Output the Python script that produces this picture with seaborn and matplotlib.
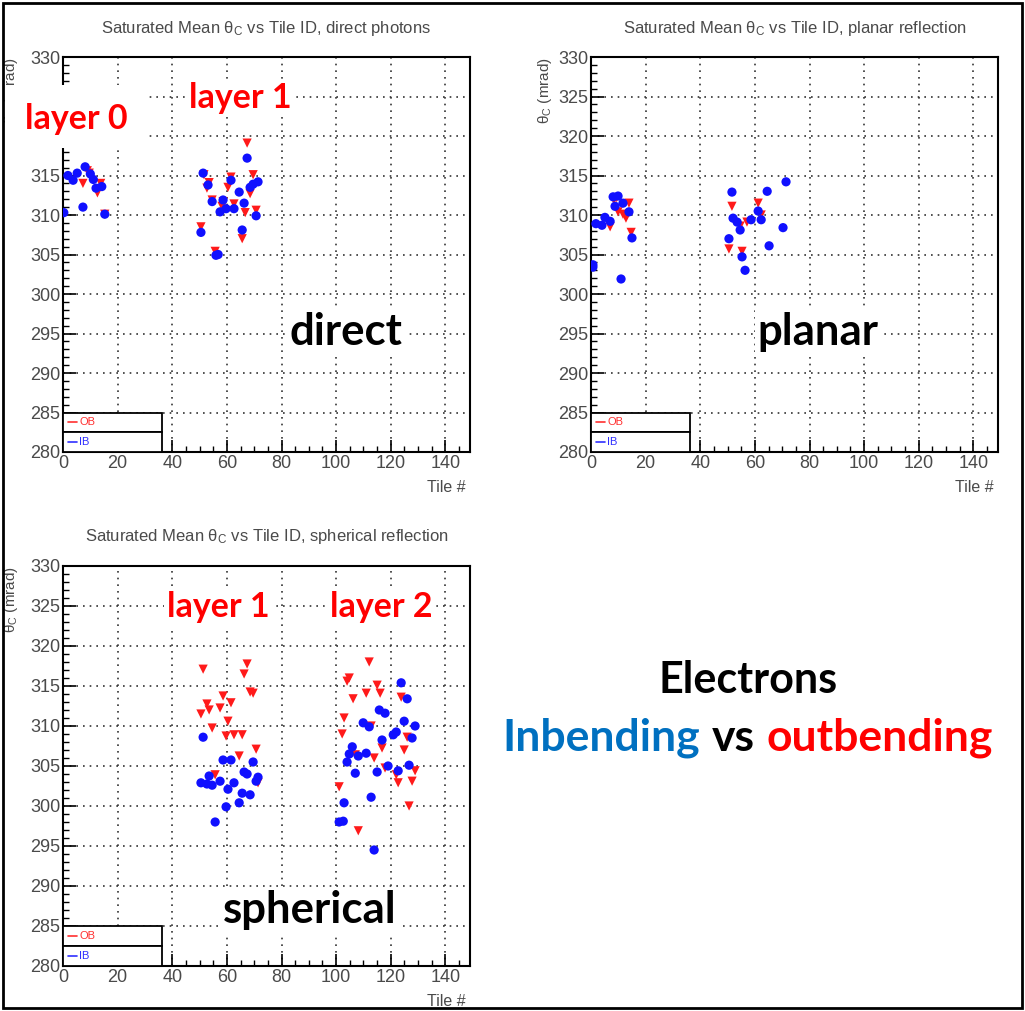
import pandas as pd
import matplotlib.pyplot as plt
from matplotlib.patches import Rectangle
from matplotlib.ticker import MultipleLocator
import seaborn as sns

# direct photons
direct_ob_tile = [7.3, 8.9, 9.6, 12.6, 13.8, 15.3, 67.4, 51.6, 53.5, 52.7,
                  61.5, 69.6, 68.5, 60.4, 54.6, 58.6, 58.2, 62.6, 66.7, 70.7,
                  50.5, 65.6, 55.7]
direct_ob_theta = [314.0, 315.6, 315.3, 312.8, 314.0, 310.1, 319.1, 315.1, 314.1, 313.4,
                   314.8, 315.1, 312.7, 313.5, 311.9, 311.7, 311.1, 311.4, 310.3, 310.6,
                   308.5, 307.0, 305.4]
direct_ib_tile = [0.3, 1.8, 3.7, 5.2, 7.3, 8.1, 10.0, 11.1, 12.1, 14.2,
                  15.3, 67.4, 51.3, 53.1, 61.5, 71.4, 69.6, 68.5, 64.5, 54.6,
                  58.6, 57.5, 59.7, 62.6, 66.3, 70.7, 50.5, 65.6, 56.0, 56.8]
direct_ib_theta = [310.3, 315.0, 314.4, 315.3, 311.0, 316.1, 315.2, 314.5, 313.4, 313.6,
                   310.1, 317.2, 315.3, 313.8, 314.4, 314.2, 313.9, 313.5, 312.9, 311.7,
                   311.9, 310.4, 310.8, 310.8, 311.5, 309.9, 307.8, 308.1, 304.9, 305.0]

# planar reflection
planar_ob_tile = [7.0, 8.4, 9.4, 9.9, 13.9, 11.7, 12.8, 14.7, 51.6, 61.2,
                  62.3, 54.6, 57.1, 50.5, 55.3]
planar_ob_theta = [308.5, 311.9, 312.2, 310.4, 311.5, 310.1, 309.6, 307.8, 311.1, 311.5,
                   310.0, 308.6, 309.1, 305.7, 305.4]
planar_ib_tile = [0.7, 0.7, 1.8, 4.0, 5.1, 7.0, 8.1, 9.9, 8.8, 11.7,
                  13.9, 15.0, 11.0, 71.4, 51.6, 64.5, 61.2, 62.3, 52.0, 53.5,
                  54.6, 58.6, 70.3, 50.5, 55.3, 65.2, 56.4]
planar_ib_theta = [303.7, 303.4, 308.9, 308.7, 309.7, 309.2, 312.3, 312.4, 311.1, 311.5,
                   310.4, 307.1, 301.9, 314.2, 312.9, 313.0, 310.5, 309.4, 309.6, 309.1,
                   308.1, 309.4, 308.4, 307.0, 304.7, 306.1, 303.0]

# spherical reflection
spher_ob_tile = [51.3, 67.4, 66.3, 68.5, 69.6, 58.6, 61.5, 52.7, 53.5, 57.5,
                 50.5, 60.4, 54.6, 59.7, 62.6, 65.6, 70.7, 64.5, 71.4, 55.7,
                 112.1, 104.8, 104.0, 115.0, 111.0, 116.1, 106.2, 123.8, 102.9, 112.8,
                 102.2, 126.0, 116.8, 124.9, 107.0, 113.9, 117.9, 128.9, 122.0, 127.8,
                 122.7, 101.1, 126.7, 108.1]
spher_ob_theta = [317.1, 317.75, 316.5, 314.25, 314.1, 313.75, 312.9, 312.75, 312.0, 312.25,
                  311.5, 310.6, 309.75, 308.75, 308.9, 308.9, 307.1, 306.25, 302.9, 303.9,
                  318.0, 316.0, 315.6, 315.1, 314.1, 314.1, 313.4, 313.6, 311.0, 310.0,
                  309.0, 308.6, 307.25, 307.0, 306.4, 306.0, 304.75, 304.4, 303.9, 303.1,
                  302.9, 302.4, 300.0, 296.9]
spher_ib_tile = [51.3, 58.6, 61.5, 69.6, 66.3, 67.4, 71.4, 70.7, 53.5, 57.5,
                 50.5, 52.7, 54.6, 62.6, 60.4, 65.6, 68.5, 64.5, 59.7, 55.7,
                 123.8, 126.0, 115.8, 117.9, 124.9, 128.9, 109.9, 112.1, 122.0, 120.9,
                 127.8, 116.8, 105.9, 104.8, 108.1, 111.0, 104.0, 119.0, 126.7, 107.0,
                 115.0, 122.7, 112.8, 102.9, 101.1, 102.6, 113.9]
spher_ib_theta = [308.6, 305.75, 305.75, 305.5, 304.25, 304.0, 303.6, 303.1, 303.75, 303.1,
                  302.9, 302.75, 302.6, 302.9, 302.1, 301.6, 301.4, 300.4, 299.9, 298.0,
                  315.4, 313.4, 312.0, 311.6, 310.6, 310.0, 310.4, 309.9, 309.25, 308.9,
                  308.5, 308.25, 307.4, 306.5, 306.25, 306.6, 305.5, 305.0, 305.1, 304.1,
                  304.25, 304.4, 301.1, 300.4, 298.0, 298.1, 294.5]

titles = ["direct photons", "planar reflection", "spherical reflection"]

sns.set_style("white")
plt.rcParams['font.family'] = ['Liberation Sans', 'DejaVu Sans']

W, H = 1025, 1011
fig = plt.figure(figsize=(W / 100, H / 100), dpi=100)


def px_box(x0, y0, x1, y1):
    return [x0 / W, 1 - y1 / H, (x1 - x0) / W, (y1 - y0) / H]


def panel(box, ob_x, ob_y, ib_x, ib_y, title, ylab_x):
    ax = fig.add_axes(box)
    df = pd.concat([
        pd.DataFrame({'tile': ob_x, 'theta': ob_y, 'field': 'OB'}),
        pd.DataFrame({'tile': ib_x, 'theta': ib_y, 'field': 'IB'}),
    ], ignore_index=True)
    sns.scatterplot(data=df, x='tile', y='theta', hue='field', style='field',
                    markers={'OB': 'v', 'IB': 'o'},
                    palette={'OB': '#ff1a1a', 'IB': '#1010ff'},
                    s=44, linewidth=0, legend=False, ax=ax, zorder=3)
    ax.set_xlim(0, 149)
    ax.set_ylim(280, 330)
    ax.xaxis.set_major_locator(MultipleLocator(20))
    ax.xaxis.set_minor_locator(MultipleLocator(5))
    ax.yaxis.set_major_locator(MultipleLocator(5))
    ax.yaxis.set_minor_locator(MultipleLocator(1))
    ax.tick_params(which='both', direction='in', colors='black',
                   labelcolor='#4a4a4a', labelsize=13, pad=2)
    ax.tick_params(which='major', length=9, width=1.2)
    ax.tick_params(which='minor', length=4.5, width=1)
    ax.tick_params(axis='y', which='both', left=True)
    ax.tick_params(axis='x', which='both', bottom=True)
    ax.grid(True, which='major', color='0.2', linestyle=(0, (1, 3)), linewidth=1.2)
    for sp in ax.spines.values():
        sp.set_color('black')
        sp.set_linewidth(1.5)
    ax.set_title(r"Saturated Mean $\mathregular{\theta_{C}}$ vs Tile ID, " + title,
                 fontsize=12, color='#4a4a4a', y=1.073, va='center', pad=0)
    ax.set_xlabel("Tile #", loc='right', fontsize=11.5, color='#4a4a4a')
    ax.xaxis.set_label_coords(0.99, -0.07)
    ax.set_ylabel(r"$\mathregular{\theta_{C}}$ (mrad)", loc='top', fontsize=11,
                  color='#4a4a4a')
    ax.yaxis.set_label_coords(ylab_x, 1.0)

    # ROOT style legend boxes
    for i, (lab, col) in enumerate([('OB', '#ff3030'), ('IB', '#3030ff')]):
        y0 = 0.05 - i * 0.05
        ax.add_patch(Rectangle((0, y0), 0.243, 0.05, transform=ax.transAxes,
                               facecolor='white', edgecolor='black', lw=1.3,
                               zorder=5, clip_on=False))
        ax.plot([0.012, 0.035], [y0 + 0.025] * 2, color=col, lw=1.2,
                transform=ax.transAxes, zorder=6)
        ax.text(0.04, y0 + 0.025, lab, color=col, fontsize=8,
                transform=ax.transAxes, va='center', zorder=6)
    return ax


panel(px_box(63, 57, 470, 452), direct_ob_tile, direct_ob_theta,
      direct_ib_tile, direct_ib_theta, titles[0], -0.105)
panel(px_box(591, 57, 998, 452), planar_ob_tile, planar_ob_theta,
      planar_ib_tile, planar_ib_theta, titles[1], -0.09)
panel(px_box(63, 566, 470, 966), spher_ob_tile, spher_ob_theta,
      spher_ib_tile, spher_ib_theta, titles[2], -0.105)

# white patch hiding the upper-left of the first panel, as in the slide
fig.patches.append(Rectangle((5 / W, 1 - 148 / H), 143 / W, 63 / H,
                             transform=fig.transFigure, facecolor='white',
                             edgecolor='none', zorder=2))

RED = '#ff0000'
BLUE = '#0070c0'
bb = dict(facecolor='white', edgecolor='none', pad=2)


def note(px, py, s, color='black', size=20, ha='center', box=True):
    fig.text(px / W, 1 - py / H, s, color=color, fontsize=size, ha=ha,
             va='center', fontweight='bold', family=['Lato', 'DejaVu Sans'],
             bbox=bb if box else None, zorder=4)


note(76, 119, "layer 0", RED, 24.5, box=False)
note(240, 98, "layer 1", RED, 24.5)
note(346, 332, "direct", 'black', 31.5)
note(818, 332, "planar", 'black', 31.5)
note(310, 910, "spherical", 'black', 31.5)
note(218, 607, "layer 1", RED, 24.5)
note(381, 607, "layer 2", RED, 24.5)
note(748, 680, "Electrons", 'black', 31, box=False)
note(700, 738, "Inbending", BLUE, 32, ha='right', box=False)
note(733, 738, "vs", 'black', 32, box=False)
note(766, 738, "outbending", RED, 32, ha='left', box=False)

# outer frame of the slide
fig.patches.append(Rectangle((3 / W, 3 / H), 1 - 6 / W, 1 - 6 / H,
                             transform=fig.transFigure, fill=False,
                             edgecolor='black', lw=2, zorder=10))

fig.savefig("out.png", dpi=100)
